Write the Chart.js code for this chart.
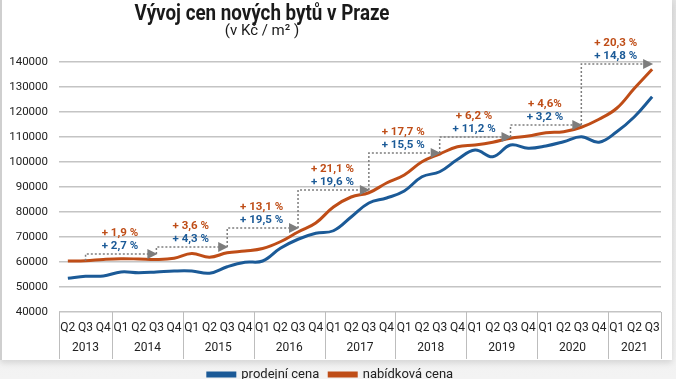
<!DOCTYPE html>
<html>
<head>
<meta charset="utf-8">
<script src="https://cdn.jsdelivr.net/npm/chart.js@4"></script>
<style>
  html, body { margin: 0; padding: 0; }
  body {
    width: 676px; height: 379px; overflow: hidden; position: relative;
    background: linear-gradient(#e2e2e2, #f3f3f3);
  }
  #card {
    position: absolute; left: 0; top: 0; width: 670px; height: 360px;
    background: #fff; border-left: 2px solid #cfcfcf;
    box-shadow: 0 3px 6px rgba(0,0,0,0.12);
  }
  canvas { position: absolute; left: 0; top: 0; }
</style>
</head>
<body>
<div id="card"></div>
<canvas id="chart" width="676" height="379"></canvas>
<script>
// data
const quarters = ["Q2", "Q3", "Q4",
  "Q1", "Q2", "Q3", "Q4", "Q1", "Q2", "Q3", "Q4", "Q1", "Q2", "Q3", "Q4",
  "Q1", "Q2", "Q3", "Q4", "Q1", "Q2", "Q3", "Q4", "Q1", "Q2", "Q3", "Q4",
  "Q1", "Q2", "Q3", "Q4", "Q1", "Q2", "Q3"];
const years = ["2013", "2014", "2015", "2016", "2017", "2018", "2019", "2020", "2021"];
const yearTicks = [1, 4.5, 8.5, 12.5, 16.5, 20.5, 24.5, 28.5, 32];

const salePrice = [53500, 54300, 54400,
  56000, 55700, 56000, 56400,
  56400, 55500, 58100, 59900,
  60400, 65500, 69100, 71500,
  72500, 78000, 83600, 85600,
  88400, 94100, 96100, 101000,
  104800, 102100, 106800, 105500,
  106400, 108100, 110100, 107900,
  112100, 118100, 126100];
const offerPrice = [60400, 60500, 61000,
  61300, 61200, 61000, 61500,
  63400, 61900, 63700, 64400,
  65400, 68100, 72000, 75600,
  82000, 86000, 87700, 91600,
  94800, 100100, 103200, 106100,
  106800, 107900, 109500, 110400,
  111700, 112100, 113900, 117100,
  121500, 129500, 137100];

// meziroční nárůst (Q3 -> Q3)
const arrowLevels = [63200, 66000, 73600, 88800, 103600, 110000, 114800, 139200];
const offerGrowth = ["+ 1,9 %", "+ 3,6 %", "+ 13,1 %", "+ 21,1 %", "+ 17,7 %", "+ 6,2 %", "+ 4,6%", "+ 20,3 %"];
const saleGrowth = ["+ 2,7 %", "+ 4,3 %", "+ 19,5 %", "+ 19,6 %", "+ 15,5 %", "+ 11,2 %", "+ 3,2 %", "+ 14,8 %"];

const yTicks = [40000, 50000, 60000, 70000, 80000, 90000, 100000, 110000, 120000, 130000, 140000];

const BLUE = "#1b5a97";
const ORANGE = "#bf4d17";
const FONT = "Roboto, 'Noto Sans', sans-serif";

// nadpis
const titlePlugin = {
  id: "bigTitle",
  afterDraw(chart) {
    const ctx = chart.ctx;
    ctx.save();
    ctx.fillStyle = "#1a1a1a";
    ctx.textAlign = "center";
    ctx.textBaseline = "middle";
    ctx.font = "bold 22px " + FONT;
    ctx.fillText("Vývoj cen nových bytů v Praze", 262, 14, 255);
    ctx.font = "15px " + FONT;
    ctx.fillText("(v Kč / m² )", 262, 31);
    ctx.restore();
  }
};

// oddělovače roků pod osou
const yearSepPlugin = {
  id: "yearSeparators",
  afterDraw(chart) {
    const { ctx, chartArea, scales: { x, years: yr } } = chart;
    const bounds = [0];
    quarters.forEach((q, i) => { if (q === "Q1") bounds.push(i); });
    bounds.push(quarters.length);
    ctx.save();
    ctx.strokeStyle = "#bdbdbd";
    ctx.lineWidth = 1;
    bounds.forEach(b => {
      const px = Math.round(x.getPixelForValue(b - 0.5)) + 0.5;
      ctx.beginPath();
      ctx.moveTo(px, chartArea.bottom);
      ctx.lineTo(px, yr.bottom + 1);
      ctx.stroke();
    });
    ctx.restore();
  }
};

// šipky s procenty
const arrowPlugin = {
  id: "growthArrows",
  afterDatasetsDraw(chart) {
    const { ctx, scales: { x, y } } = chart;
    const q3 = [];
    quarters.forEach((q, i) => { if (q === "Q3") q3.push(i); });
    ctx.save();
    for (let k = 0; k < arrowLevels.length; k++) {
      const x0 = x.getPixelForValue(q3[k]);
      const x1 = x.getPixelForValue(q3[k + 1]);
      const yS = y.getPixelForValue(k === 0 ? offerPrice[q3[0]] : arrowLevels[k - 1]);
      const yL = y.getPixelForValue(arrowLevels[k]);
      ctx.strokeStyle = "#7d7d7d";
      ctx.lineWidth = 1.5;
      ctx.setLineDash([2, 2]);
      ctx.beginPath();
      ctx.moveTo(x0, yS);
      ctx.lineTo(x0, yL);
      ctx.lineTo(x1 - 8, yL);
      ctx.stroke();
      ctx.setLineDash([]);
      ctx.fillStyle = "#7d7d7d";
      ctx.beginPath();
      ctx.moveTo(x1 - 9, yL - 5);
      ctx.lineTo(x1 + 1, yL);
      ctx.lineTo(x1 - 9, yL + 5);
      ctx.closePath();
      ctx.fill();

      const cx = (x0 + x1) / 2 - 1;
      ctx.font = "bold 11.5px " + FONT;
      ctx.textAlign = "center";
      ctx.textBaseline = "middle";
      ctx.fillStyle = ORANGE;
      ctx.fillText(offerGrowth[k], cx, yL - 21);
      ctx.fillStyle = BLUE;
      ctx.fillText(saleGrowth[k], cx, yL - 8);
    }
    ctx.restore();
  }
};

const ctx = document.getElementById("chart").getContext("2d");
new Chart(ctx, {
  type: "line",
  data: {
    labels: quarters,
    datasets: [
      {
        label: "prodejní cena",
        data: salePrice,
        borderColor: BLUE,
        backgroundColor: BLUE,
        borderWidth: 3,
        tension: 0.4,
        pointRadius: 0,
        fill: false
      },
      {
        label: "nabídková cena",
        data: offerPrice,
        borderColor: ORANGE,
        backgroundColor: ORANGE,
        borderWidth: 3,
        tension: 0.4,
        pointRadius: 0,
        fill: false
      }
    ]
  },
  options: {
    responsive: false,
    animation: false,
    layout: { padding: { top: 62, left: 0, right: 15, bottom: -12 } },
    plugins: {
      title: { display: false },
      tooltip: { enabled: false },
      legend: {
        position: "bottom",
        labels: {
          boxWidth: 27,
          boxHeight: 3,
          padding: 10,
          color: "#222",
          font: { family: FONT, size: 13 }
        }
      }
    },
    scales: {
      x: {
        type: "category",
        offset: true,
        weight: 0,
        grid: { display: false, drawTicks: false },
        border: { display: false },
        ticks: {
          autoSkip: false, maxRotation: 0, padding: 9,
          color: "#222", font: { family: FONT, size: 12 }
        },
        afterFit(s) { s.height = 22; }
      },
      years: {
        type: "linear",
        position: "bottom",
        weight: 1,
        min: -0.5,
        max: quarters.length - 0.5,
        grid: { display: false, drawTicks: false },
        border: { display: false },
        afterBuildTicks(s) { s.ticks = yearTicks.map(v => ({ value: v })); },
        ticks: {
          autoSkip: false, maxRotation: 0, padding: 7,
          color: "#222", font: { family: FONT, size: 12 },
          callback: (v, i) => years[i]
        },
        afterFit(s) { s.height = 24; }
      },
      y: {
        min: 40000,
        max: 140000,
        afterBuildTicks(s) { s.ticks = yTicks.map(v => ({ value: v })); },
        grid: { color: "#c4c4c4", lineWidth: 1.5, drawTicks: false },
        border: { display: false },
        ticks: {
          padding: 11,
          color: "#222",
          font: { family: FONT, size: 11.5 },
          callback: v => String(v)
        },
        afterFit(s) { s.width = 59; }
      }
    }
  },
  plugins: [titlePlugin, yearSepPlugin, arrowPlugin]
});
</script>
</body>
</html>
